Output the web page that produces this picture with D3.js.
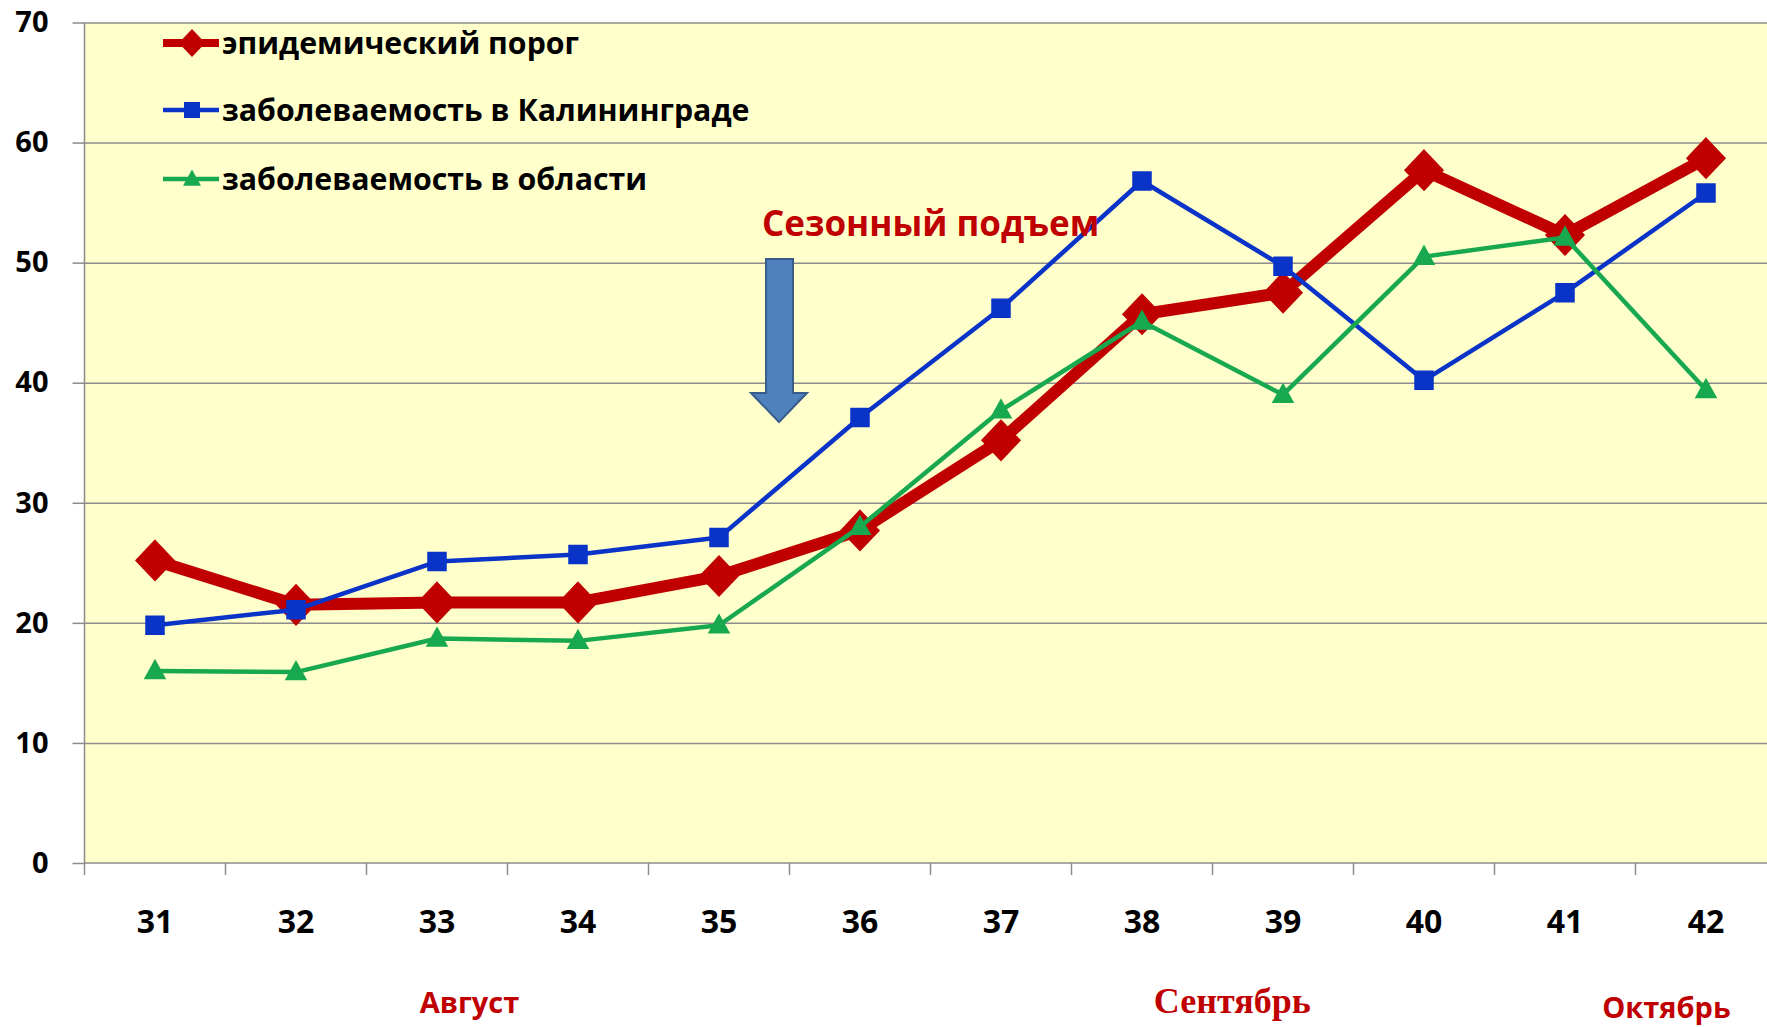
<!DOCTYPE html>
<html>
<head>
<meta charset="utf-8">
<script src="https://cdn.jsdelivr.net/npm/d3@7"></script>
<style>
  body { margin: 0; background: #ffffff; }
  svg { display: block; }
</style>
</head>
<body>
<script>
// Data
let weeks = ["31", "32", "33", "34", "35", "36", "37", "38", "39", "40", "41", "42"];
let threshold = [25.2, 21.5, 21.7, 21.7, 23.9, 27.7, 35.2, 45.7, 47.5, 57.7, 52.3, 58.7];
let kaliningrad = [19.8, 21.1, 25.1, 25.7, 27.1, 37.1, 46.2, 56.8, 49.7, 40.2, 47.5, 55.8];
let region = [16.0, 15.9, 18.7, 18.5, 19.8, 28.0, 37.7, 45.1, 39.0, 50.5, 52.1, 39.4];
let yTicks = [0, 10, 20, 30, 40, 50, 60, 70];
let seriesNames = [
  "эпидемический порог",
  "заболеваемость в Калининграде",
  "заболеваемость в области",
];
let months = [
  { name: "Август", at: "33", offset: 0.73, serif: false },
  { name: "Сентябрь", at: "38", offset: 1.14, serif: true },
  { name: "Октябрь", at: "42", offset: 0.22, serif: false },
];

// Width and height
let w = 1767;
let h = 1027;
let plotLeft = 84.5;
let bandW = 141;
let plotTop = 22.5;
let plotBottom = 863;

let xScale = d3
  .scaleBand()
  .domain(weeks)
  .range([plotLeft, plotLeft + weeks.length * bandW])
  .padding(0);

let yScale = d3.scaleLinear().domain([0, 70]).range([plotBottom, plotTop]);

let svg = d3.select("body").append("svg").attr("width", w).attr("height", h);

let font = "'Open Sans', 'DejaVu Sans', sans-serif";
let darkRed = "#c00000";
let gridColor = "#8c8c8c";

// Plot background
svg
  .append("rect")
  .attr("x", plotLeft)
  .attr("y", plotTop)
  .attr("width", w - plotLeft)
  .attr("height", plotBottom - plotTop)
  .attr("fill", "#ffffcc");

// Gridlines
svg
  .append("g")
  .attr("transform", "translate(" + plotLeft + ",0)")
  .call(d3.axisLeft(yScale).tickValues(yTicks.slice(1)).tickSize(-(w - plotLeft)).tickFormat(""))
  .call((g) => g.select(".domain").remove())
  .call((g) => g.selectAll("line").attr("stroke", gridColor).attr("stroke-width", 1.5));

// Y axis
let yAxis = svg
  .append("g")
  .attr("transform", "translate(" + plotLeft + ",0)")
  .call(d3.axisLeft(yScale).tickValues(yTicks).tickSize(12).tickPadding(24));
yAxis
  .select(".domain")
  .attr("stroke", gridColor)
  .attr("stroke-width", 1.5)
  .attr("d", "M0," + plotBottom + "V" + plotTop);
yAxis.selectAll("line").attr("stroke", gridColor).attr("stroke-width", 1.5);
yAxis
  .selectAll("text")
  .attr("font-family", font)
  .attr("font-weight", "bold")
  .attr("font-size", "29px")
  .attr("fill", "#000");

// X axis line and ticks at band edges
let xTicks = svg.append("g");
xTicks
  .append("line")
  .attr("x1", plotLeft)
  .attr("x2", w)
  .attr("y1", plotBottom)
  .attr("y2", plotBottom)
  .attr("stroke", gridColor)
  .attr("stroke-width", 1.5);
xTicks
  .selectAll(".tick")
  .data(weeks)
  .enter()
  .append("line")
  .attr("x1", (d) => xScale(d))
  .attr("x2", (d) => xScale(d))
  .attr("y1", plotBottom)
  .attr("y2", plotBottom + 12)
  .attr("stroke", gridColor)
  .attr("stroke-width", 1.5);

// X labels
let xAxis = svg
  .append("g")
  .attr("transform", "translate(0," + plotBottom + ")")
  .call(d3.axisBottom(xScale).tickSize(0).tickPadding(47));
xAxis.select(".domain").remove();
xAxis
  .selectAll("text")
  .attr("font-family", font)
  .attr("font-weight", "bold")
  .attr("font-size", "32px")
  .attr("fill", "#000");

// Month labels
svg
  .selectAll(".month")
  .data(months)
  .enter()
  .append("text")
  .attr("class", "month")
  .text((d) => d.name)
  .attr("x", (d) => xScale(d.at) + bandW * d.offset)
  .attr("y", (d) => (d.name == "Октябрь" ? 1018 : 1013))
  .attr("text-anchor", "middle")
  .attr("font-family", (d) => (d.serif ? "'Liberation Serif', serif" : font))
  .attr("font-weight", "bold")
  .attr("font-size", (d) => (d.serif ? "36px" : "29px"))
  .attr("fill", darkRed);

// Markers
let cx = (i) => xScale(weeks[i]) + bandW / 2;
let diamond = (s) => "M0," + -s + "L" + s * 0.95 + ",0L0," + s + "L" + -s * 0.95 + ",0Z";
let square = (s) => "M" + -s + "," + -s + "H" + s + "V" + s + "H" + -s + "Z";
let triangle = (s) => "M0," + -s * 1.05 + "L" + s + "," + s * 0.75 + "H" + -s + "Z";

let series = [
  { values: threshold, color: darkRed, width: 12, marker: diamond(20) },
  { values: kaliningrad, color: "#0a33c8", width: 4.5, marker: square(9) },
  { values: region, color: "#18a850", width: 4.5, marker: triangle(10) },
];

let line = d3
  .line()
  .x((d, i) => cx(i))
  .y((d) => yScale(d));

series.forEach((s) => {
  svg
    .append("path")
    .datum(s.values)
    .attr("d", line)
    .attr("fill", "none")
    .attr("stroke", s.color)
    .attr("stroke-width", s.width)
    .attr("stroke-linejoin", "round");

  svg
    .selectAll(null)
    .data(s.values)
    .enter()
    .append("path")
    .attr("d", s.marker)
    .attr("transform", (d, i) => "translate(" + cx(i) + "," + yScale(d) + ")")
    .attr("fill", s.color)
    .attr("stroke", s.color)
    .attr("stroke-width", 1.5);
});

// Legend
let legendY = [43, 110, 179];
let legendMarkers = [diamond(14), square(8), triangle(9)];
let legend = svg
  .selectAll(".legend")
  .data(series)
  .enter()
  .append("g")
  .attr("class", "legend")
  .attr("transform", (d, i) => "translate(0," + legendY[i] + ")");
legend
  .append("line")
  .attr("x1", 163)
  .attr("x2", 219)
  .attr("stroke", (d) => d.color)
  .attr("stroke-width", (d, i) => (i == 0 ? 8 : 4.5));
legend
  .append("path")
  .attr("d", (d, i) => legendMarkers[i])
  .attr("transform", "translate(192,0)")
  .attr("fill", (d) => d.color);
legend
  .append("text")
  .text((d, i) => seriesNames[i])
  .attr("x", 222)
  .attr("dy", "0.35em")
  .attr("font-family", font)
  .attr("font-weight", "bold")
  .attr("font-size", "30.3px")
  .attr("fill", "#000");

// Seasonal rise note and arrow
svg
  .append("text")
  .text("Сезонный подъем")
  .attr("x", 762)
  .attr("y", 236)
  .attr("font-family", font)
  .attr("font-weight", "bold")
  .attr("font-size", "35px")
  .attr("fill", darkRed);

svg
  .append("path")
  .attr("d", "M766,259H793V393H807L779,422L751,393H766Z")
  .attr("fill", "#4f81bd")
  .attr("stroke", "#385d8a")
  .attr("stroke-width", 2);
</script>
</body>
</html>
